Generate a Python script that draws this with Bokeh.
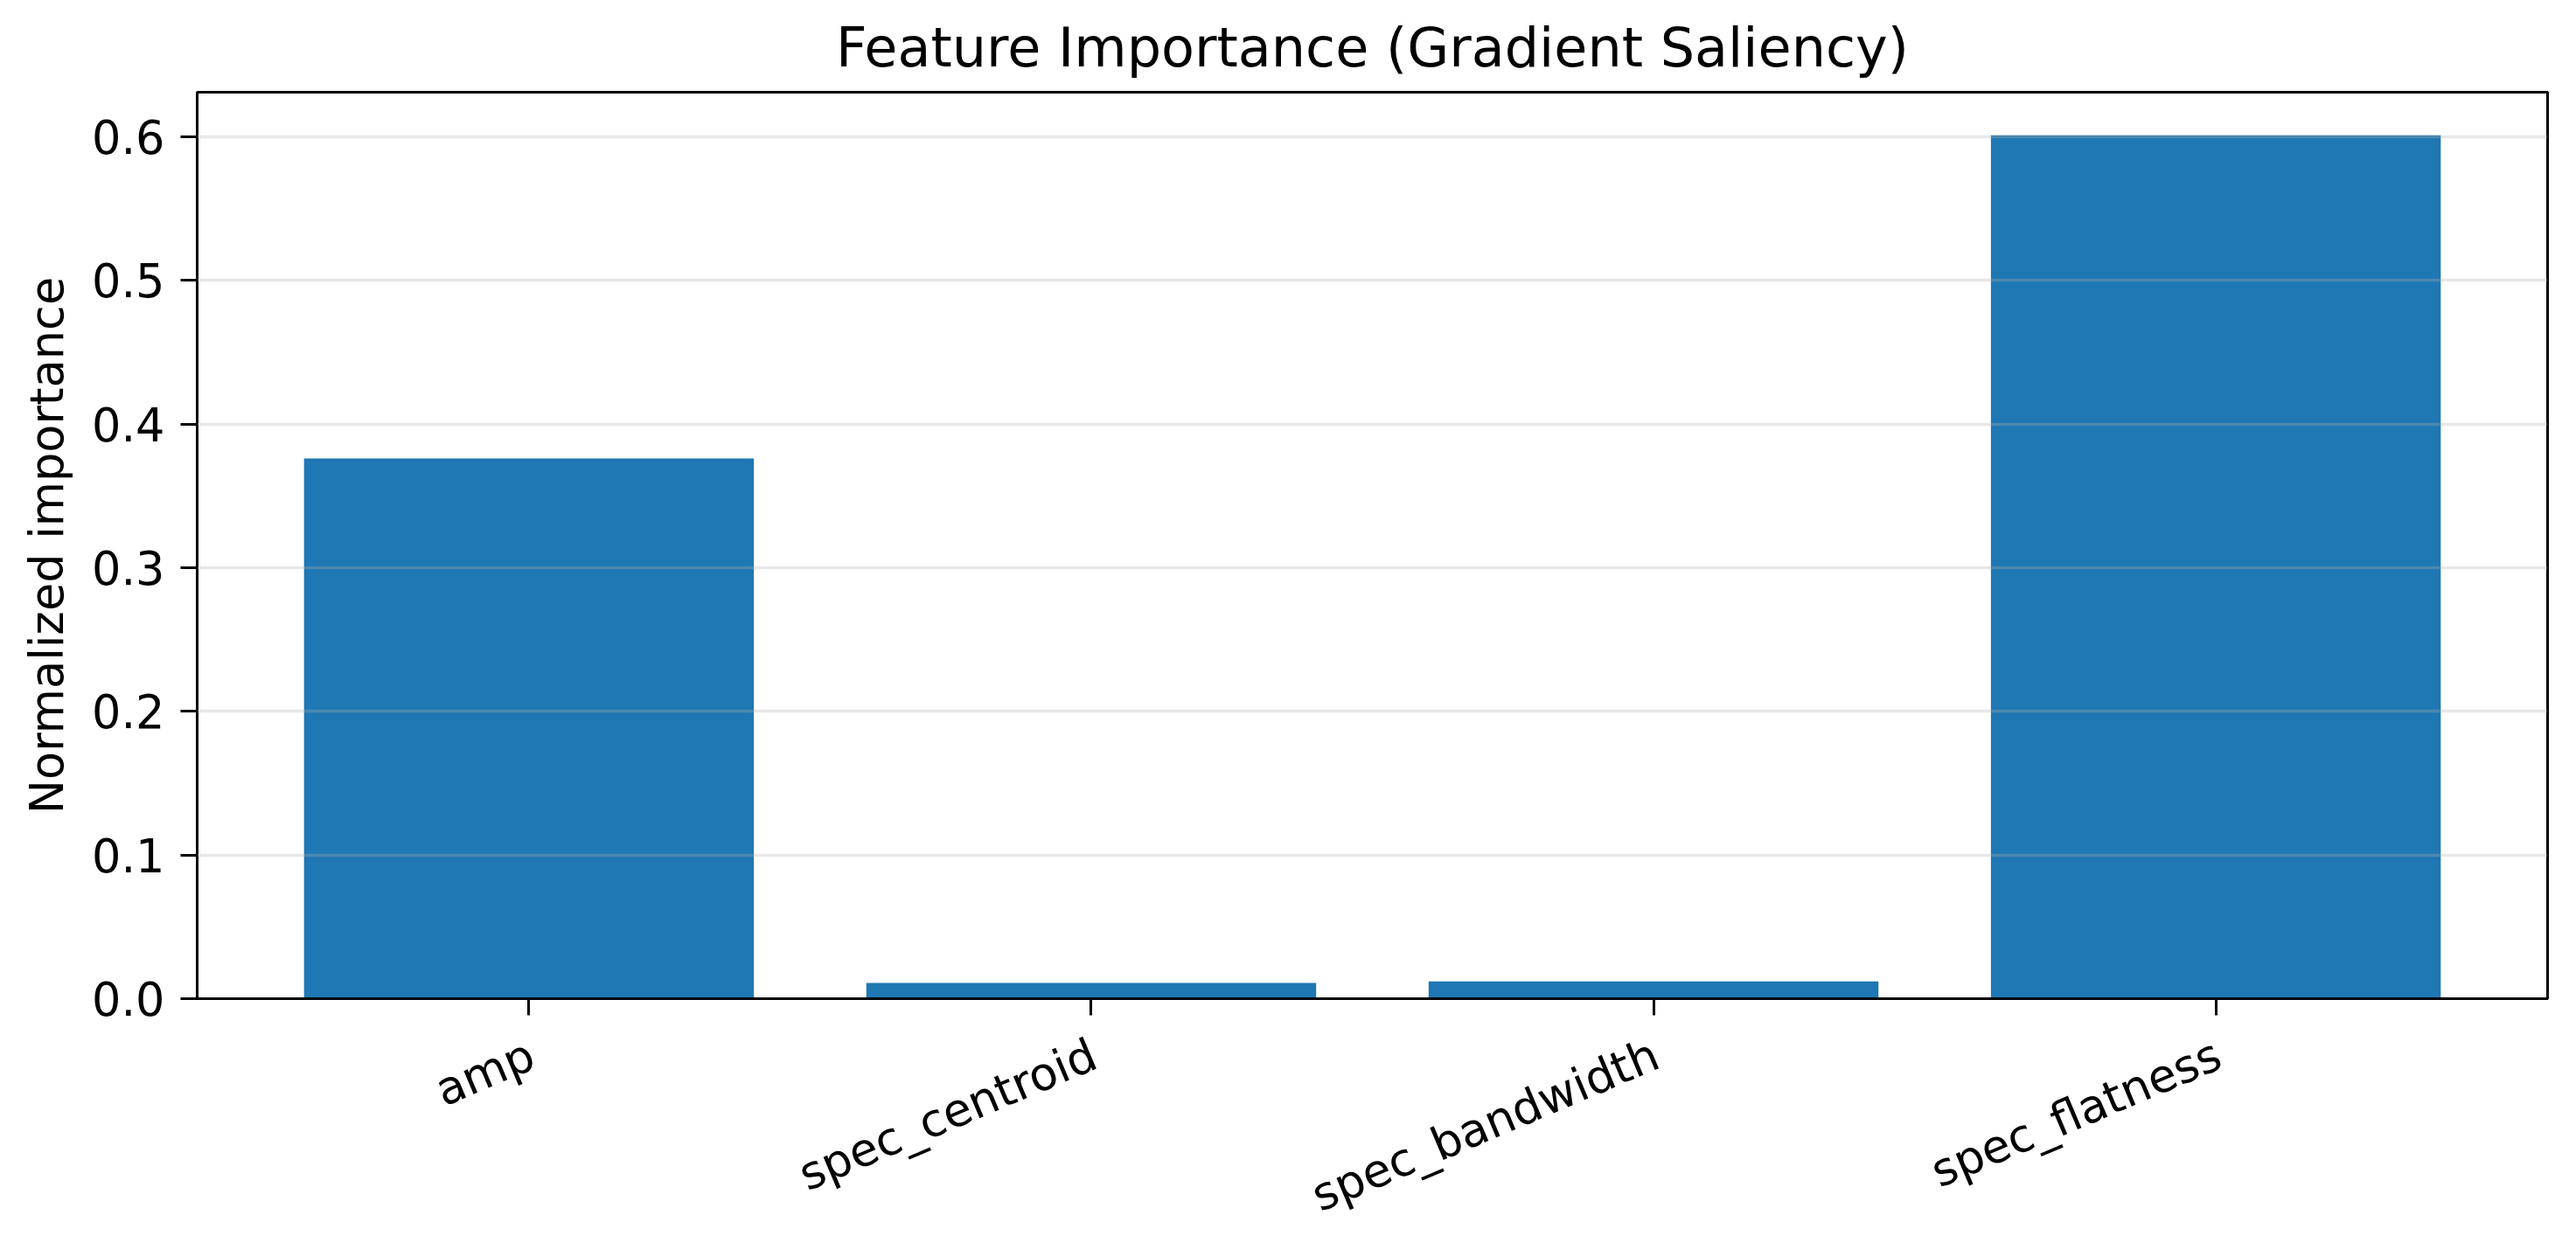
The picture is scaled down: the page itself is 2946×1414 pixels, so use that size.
import math
from bokeh.plotting import figure
from bokeh.layouts import column
from bokeh.models import Range1d, FixedTicker, PrintfTickFormatter
from bokeh.core.properties import value
from bokeh.embed import file_html
from bokeh.resources import INLINE

# gradient saliency importances, normalised to sum to 1
features = ["amp", "spec_centroid", "spec_bandwidth", "spec_flatness"]
importance = [0.376, 0.011, 0.012, 0.601]
y_ticks = [0.0, 0.1, 0.2, 0.3, 0.4, 0.5, 0.6]

xs = list(range(len(features)))
FONT = "DejaVu Sans"
W = 2930
H_TOP = 1173   # chart part (frame ends 31px above its bottom)
H_LAB = 225    # strip below it that carries the slanted category names

p = figure(width=W, height=H_TOP, output_backend="svg", toolbar_location=None,
           x_range=Range1d(-0.59, 3.59), y_range=Range1d(0, 0.631),
           title="Feature Importance (Gradient Saliency)",
           min_border_left=225, min_border_right=17,
           min_border_top=100, min_border_bottom=31)

p.vbar(x=xs, top=importance, width=0.8, bottom=0, color="#1f77b4", line_color=None)

p.title.text_font = FONT
p.title.text_font_size = "62px"
p.title.text_font_style = "normal"
p.title.align = "center"
p.title.text_color = "black"
p.title.standoff = 30

p.outline_line_color = "black"
p.outline_line_width = 3
p.outline_line_alpha = 1

p.xgrid.visible = False
p.ygrid.ticker = FixedTicker(ticks=y_ticks)
p.ygrid.grid_line_color = "#b0b0b0"
p.ygrid.grid_line_alpha = 0.3
p.ygrid.grid_line_width = 3.5
p.ygrid.level = "annotation"

# x ticks as unlabelled (minor) ticks; the names go in the strip below
p.xaxis.ticker = FixedTicker(ticks=[], minor_ticks=xs)
p.yaxis.ticker = FixedTicker(ticks=y_ticks)
p.yaxis.formatter = PrintfTickFormatter(format="%.1f")
p.yaxis.axis_label = "Normalized importance"

for ax in (p.xaxis, p.yaxis):
    ax.axis_line_color = "black"
    ax.axis_line_width = 3
    ax.major_tick_line_color = "black"
    ax.major_tick_line_width = 3
    ax.major_tick_out = 19
    ax.major_tick_in = 0
    ax.major_label_text_font = FONT
    ax.major_label_text_font_size = "52.5px"
    ax.major_label_text_color = "black"
    ax.major_label_standoff = 18
    ax.axis_label_text_font = FONT
    ax.axis_label_text_font_size = "52.5px"
    ax.axis_label_text_font_style = "normal"
    ax.axis_label_text_color = "black"
    ax.axis_label_standoff = 18

p.xaxis.major_label_standoff = 0
p.yaxis.minor_tick_line_color = None
p.xaxis.minor_tick_line_color = "black"
p.xaxis.minor_tick_line_width = 3
p.xaxis.minor_tick_out = 19
p.xaxis.minor_tick_in = 0

# label strip: shares the x range, so each name sits under its tick
lab = figure(width=W, height=H_LAB, output_backend="svg", toolbar_location=None,
             x_range=p.x_range, y_range=Range1d(0, H_LAB),
             x_axis_location=None, y_axis_location=None,
             min_border_left=225, min_border_right=17,
             min_border_top=0, min_border_bottom=0)
lab.grid.visible = False
lab.outline_line_color = None
lab.text(x=xs, y=[H_LAB - 2] * len(xs), text=features, angle=math.radians(23),
         text_align="right", text_baseline="top", x_offset=-9,
         text_font=value(FONT), text_font_size=value("52.5px"), text_color="black")

layout = column(p, lab, spacing=0)
open("out.html", "w").write(file_html(layout, INLINE))
